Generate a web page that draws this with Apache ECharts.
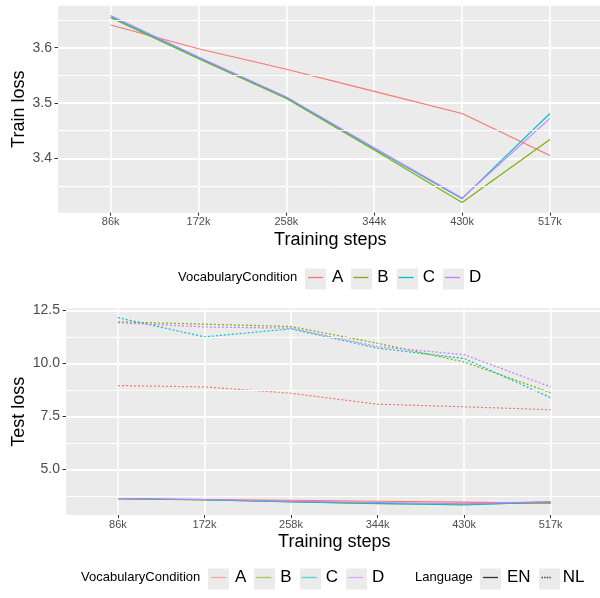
<!DOCTYPE html>
<html>
<head>
<meta charset="utf-8">
<script src="https://cdn.jsdelivr.net/npm/echarts@6/dist/echarts.min.js"></script>
<style>html,body{margin:0;padding:0;background:#fff}#c{width:600px;height:598px}</style>
</head>
<body>
<div id="c"></div>
<script>
// ---- data ----
const steps = ['86k', '172k', '258k', '344k', '430k', '517k'];
const conditions = ['A', 'B', 'C', 'D'];
const languages = ['EN', 'NL'];

const trainLoss_A = [3.641, 3.598, 3.561, 3.521, 3.481, 3.405];
const trainLoss_B = [3.654, 3.580, 3.508, 3.415, 3.320, 3.434];
const trainLoss_C = [3.656, 3.582, 3.510, 3.417, 3.327, 3.481];
const trainLoss_D = [3.658, 3.583, 3.511, 3.419, 3.328, 3.472];

const testEN_A = [3.62, 3.58, 3.55, 3.50, 3.46, 3.40];
const testEN_B = [3.62, 3.56, 3.48, 3.38, 3.36, 3.43];
const testEN_C = [3.62, 3.57, 3.47, 3.40, 3.32, 3.47];
const testEN_D = [3.63, 3.58, 3.50, 3.44, 3.38, 3.48];

const testNL_A = [8.96, 8.90, 8.60, 8.08, 7.96, 7.82];
const testNL_B = [11.97, 11.86, 11.75, 10.96, 10.08, 8.63];
const testNL_C = [12.17, 11.26, 11.64, 10.73, 10.24, 8.39];
const testNL_D = [11.93, 11.73, 11.67, 10.80, 10.42, 8.90];

const trainMajorTicks = [3.4, 3.5, 3.6];
const trainMinorTicks = [3.35, 3.45, 3.55, 3.65];
const testMajorTicks = [5.0, 7.5, 10.0, 12.5];
const testMinorTicks = [3.75, 6.25, 8.75, 11.25];

// ---- styling ----
const colors = {A: '#F8766D', B: '#7CAE00', C: '#00BFC4', D: '#C77CFF'};
const lightColors = {A: '#F4A29C', B: '#A3C95A', C: '#55D2D4', D: '#D9A7FF'};
const trainByCond = {A: trainLoss_A, B: trainLoss_B, C: trainLoss_C, D: trainLoss_D};
const enByCond = {A: testEN_A, B: testEN_B, C: testEN_C, D: testEN_D};
const nlByCond = {A: testNL_A, B: testNL_B, C: testNL_C, D: testNL_D};
const FONT = 'Liberation Sans, Arial, sans-serif';
const stepIdx = steps.map((s, i) => i);
const pairs = arr => arr.map((v, i) => [stepIdx[i], v]);

function xAxisFor(gridIndex) {
  return {
    type: 'value', gridIndex, min: -0.6, max: 5.6, position: 'bottom', z: 0,
    axisLine: {show: false, onZero: false},
    axisTick: {show: true, customValues: stepIdx, length: 3, lineStyle: {color: '#333', width: 1}},
    axisLabel: {show: true, customValues: stepIdx, formatter: v => steps[Math.round(v)], fontSize: 11, color: '#4D4D4D', margin: 4, fontFamily: FONT},
    splitLine: {show: true, lineStyle: {color: '#FFFFFF', width: 1.6}},
    name: 'Training steps', nameLocation: 'middle', nameGap: 18, nameMoveOverlap: false,
    nameTextStyle: {fontSize: 18, color: '#000', fontFamily: FONT}
  };
}
function yAxisFor(gridIndex, min, max, ticks, name, nameGap) {
  return {
    type: 'value', gridIndex, min, max, position: 'left', z: 0,
    axisLine: {show: false, onZero: false},
    axisTick: {show: true, customValues: ticks, length: 3.5, lineStyle: {color: '#333', width: 1}},
    axisLabel: {show: true, customValues: ticks, formatter: v => v.toFixed(1), fontSize: 14, color: '#4D4D4D', margin: 6, fontFamily: FONT},
    splitLine: {show: true, lineStyle: {color: '#FFFFFF', width: 1.8}},
    name, nameLocation: 'middle', nameGap, nameMoveOverlap: false,
    nameTextStyle: {fontSize: 18, color: '#000', fontFamily: FONT}
  };
}
// minor horizontal panel grid lines, drawn as mark lines on a helper series
function gridLineSeries(xi, yi, minor) {
  return {
    type: 'line', xAxisIndex: xi, yAxisIndex: yi, data: [], z: 1, silent: true,
    animation: false,
    markLine: {
      silent: true, symbol: ['none', 'none'], label: {show: false}, animation: false,
      lineStyle: {color: '#FFFFFF', width: 1.0, type: 'solid', opacity: 1},
      emphasis: {disabled: true},
      data: minor.map(v => ({yAxis: v}))
    }
  };
}

const series = [
  gridLineSeries(0, 0, trainMinorTicks),
  gridLineSeries(1, 1, testMinorTicks)
];
conditions.forEach(c => {
  series.push({
    name: c, type: 'line', xAxisIndex: 0, yAxisIndex: 0, data: pairs(trainByCond[c]),
    showSymbol: false, symbol: 'none', color: colors[c],
    lineStyle: {width: 1.1, color: colors[c]}, z: 3, animation: false
  });
});
conditions.forEach(c => {
  series.push({
    name: c, type: 'line', xAxisIndex: 1, yAxisIndex: 1, data: pairs(enByCond[c]),
    showSymbol: false, symbol: 'none', color: colors[c],
    lineStyle: {width: 1.1, color: colors[c], type: 'solid'}, z: 3, animation: false
  });
  series.push({
    name: c, type: 'line', xAxisIndex: 1, yAxisIndex: 1, data: pairs(nlByCond[c]),
    showSymbol: false, symbol: 'none', color: colors[c],
    lineStyle: {width: 1.2, color: colors[c], type: [2, 2]}, z: 3, animation: false
  });
});
languages.forEach((l, i) => {
  series.push({
    name: l, type: 'line', xAxisIndex: 1, yAxisIndex: 1, data: [],
    showSymbol: false, symbol: 'none', color: '#333333',
    lineStyle: {width: 1.1, color: '#333333', type: i === 0 ? 'solid' : [2, 2]}, animation: false
  });
});

const dotsIcon = 'path://M0,0h2v2h-2z M4,0h2v2h-2z M8,0h2v2h-2z M12,0h2v2h-2z';
function legendFor(left, top, names, colorMap, textWidth, gap) {
  return {
    left, top, padding: 0, orient: 'horizontal', icon: 'rect',
    itemWidth: 15, itemHeight: 1.3, itemGap: gap, selectedMode: false,
    data: names.map(n => ({
      name: n,
      icon: n === 'NL' ? dotsIcon : 'rect',
      itemStyle: {color: colorMap[n]}
    })),
    textStyle: {fontSize: 17, color: '#000', fontFamily: FONT, width: textWidth, padding: [0, 0, 0, 4]}
  };
}

const keyRects = [];
function addKeys(xs, yc) {
  xs.forEach(x => keyRects.push({
    type: 'rect', left: x, top: yc - 10.5, shape: {width: 21, height: 21},
    style: {fill: '#EBEBEB'}, z: 0, silent: true
  }));
}
addKeys([305, 351, 397, 443], 279);
addKeys([208, 254, 300, 346, 480, 539], 579);

const option = {
  animation: false,
  backgroundColor: '#FFFFFF',
  grid: [
    {left: 58, top: 5.7, right: -2.6, height: 207, show: true, backgroundColor: '#EBEBEB', borderWidth: 0, outerBoundsMode: 'none'},
    {left: 66, top: 308.3, right: -2.6, height: 206.7, show: true, backgroundColor: '#EBEBEB', borderWidth: 0, outerBoundsMode: 'none'}
  ],
  xAxis: [xAxisFor(0), xAxisFor(1)],
  yAxis: [
    yAxisFor(0, 3.3016, 3.6759, trainMajorTicks, 'Train loss', 30),
    yAxisFor(1, 2.85, 12.61, testMajorTicks, 'Test loss', 38)
  ],
  legend: [
    legendFor(308, 269, conditions, colors, 12, 10),
    legendFor(211, 569, conditions, lightColors, 12, 10),
    legendFor(483, 569, languages, {EN: '#333333', NL: '#333333'}, 24, 11)
  ],
  graphic: keyRects.concat([
    {type: 'text', left: 178, top: 279 - 8, style: {text: 'VocabularyCondition', fontSize: 13, fill: '#000', fontFamily: FONT}},
    {type: 'text', left: 81, top: 579 - 8, style: {text: 'VocabularyCondition', fontSize: 13, fill: '#000', fontFamily: FONT}},
    {type: 'text', left: 415, top: 579 - 8, style: {text: 'Language', fontSize: 13, fill: '#000', fontFamily: FONT}}
  ]),
  series
};
const chart = echarts.init(document.getElementById('c'), null, {renderer: 'canvas'});
chart.setOption(option);
</script>
</body>
</html>
